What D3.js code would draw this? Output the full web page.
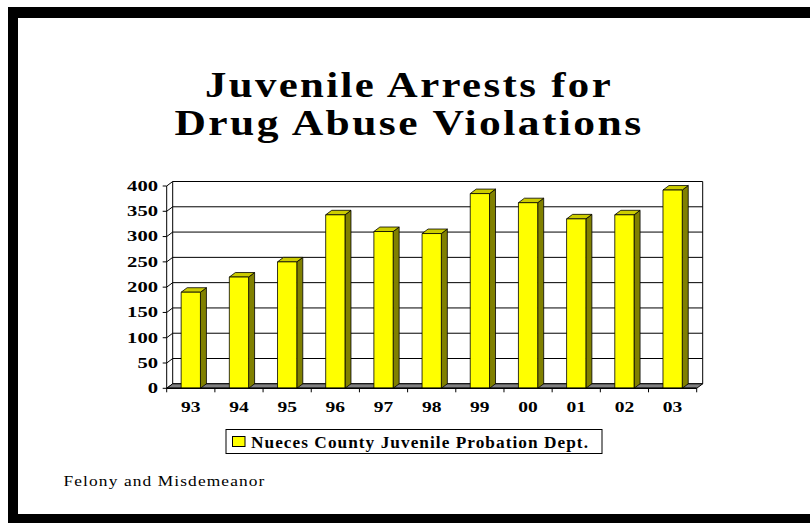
<!DOCTYPE html>
<html>
<head>
<meta charset="utf-8">
<script src="https://cdn.jsdelivr.net/npm/d3@7"></script>
<style>
  html, body { margin: 0; padding: 0; background: #fff; }
  svg { display: block; }
  text { font-family: "Liberation Serif", "Times New Roman", serif; fill: #000; }
</style>
</head>
<body>
<svg id="chart" width="810" height="523"></svg>
<script>
// ---- data ----
const categories = ["93","94","95","96","97","98","99","00","01","02","03"];
const arrests = [190, 220, 250, 343, 310, 306, 385, 367, 335, 343, 392];
const yTicks = [0, 50, 100, 150, 200, 250, 300, 350, 400];
const seriesName = "Nueces County Juvenile Probation Dept.";
const titleLines = ["Juvenile Arrests for", "Drug Abuse Violations"];
const footnote = "Felony and Misdemeanor";

// ---- layout ----
const svg = d3.select("#chart");
const X0 = 166.7, X1 = 696.7, Y0 = 388.3, YTOP = 186;
const DX = 6, DY = -4.5;

const x = d3.scaleBand().domain(categories).range([X0, X1]).padding(0);
const y = d3.scaleLinear().domain([0, 400]).range([Y0, YTOP]);
const bw = x.bandwidth();

// frame
svg.append("path")
  .attr("d", "M8,7 H810 V18 H18 V514 H810 V523 H8 Z")
  .attr("fill", "#000");

// back wall gridlines + side wall diagonals
const grid = svg.append("g").attr("stroke", "#000").attr("stroke-width", 1).attr("fill", "none");
yTicks.forEach(v => {
  grid.append("line").attr("x1", X0 + DX).attr("x2", X1 + DX)
    .attr("y1", y(v) + DY).attr("y2", y(v) + DY);
  grid.append("line").attr("x1", X0).attr("x2", X0 + DX)
    .attr("y1", y(v)).attr("y2", y(v) + DY);
});
grid.append("line").attr("x1", X0 + DX).attr("x2", X0 + DX).attr("y1", y(400) + DY).attr("y2", y(0) + DY);
grid.append("line").attr("x1", X1 + DX).attr("x2", X1 + DX).attr("y1", y(400) + DY).attr("y2", y(0) + DY);

// floor
svg.append("path")
  .attr("d", `M${X0},${Y0} L${X1},${Y0} L${X1 + DX},${Y0 + DY} L${X0 + DX},${Y0 + DY} Z`)
  .attr("fill", "#808080").attr("stroke", "#000").attr("stroke-width", 1);

// bars
const bars = svg.append("g").attr("stroke", "#000").attr("stroke-width", 0.8).attr("stroke-linejoin", "round");
categories.forEach((c, i) => {
  const v = arrests[i];
  const bx = x(c) + bw * 0.3, w = bw * 0.4;
  const top = y(v), bot = y(0);
  bars.append("path")
    .attr("d", `M${bx + w},${bot} L${bx + w + DX},${bot + DY} L${bx + w + DX},${top + DY} L${bx + w},${top} Z`)
    .attr("fill", "#808000");
  bars.append("path")
    .attr("d", `M${bx},${top} L${bx + DX},${top + DY} L${bx + w + DX},${top + DY} L${bx + w},${top} Z`)
    .attr("fill", "#CCCC00");
  bars.append("rect").attr("x", bx).attr("y", top).attr("width", w).attr("height", bot - top)
    .attr("fill", "#FFFF00");
});

// y axis (front)
const ax = svg.append("g").attr("stroke", "#000").attr("stroke-width", 1);
ax.append("line").attr("x1", X0).attr("x2", X0).attr("y1", y(400)).attr("y2", Y0);
yTicks.forEach(v => {
  ax.append("line").attr("x1", X0 - 4).attr("x2", X0).attr("y1", y(v)).attr("y2", y(v));
});
// x axis (front)
ax.append("line").attr("x1", X0).attr("x2", X1).attr("y1", Y0).attr("y2", Y0).attr("stroke-width", 1.5);
d3.range(categories.length + 1).forEach(k => {
  const xx = X0 + k * x.step();
  ax.append("line").attr("x1", xx).attr("x2", xx).attr("y1", Y0).attr("y2", Y0 + 4);
});

// y labels
svg.append("g").selectAll("text").data(yTicks).join("text")
  .attr("x", 158).attr("y", d => y(d)).attr("dy", "0.35em")
  .attr("text-anchor", "end")
  .attr("font-size", 14).attr("font-weight", "bold")
  .attr("textLength", d => String(d).length * 10.3)
  .attr("lengthAdjust", "spacingAndGlyphs")
  .text(d => d);

// x labels
svg.append("g").selectAll("text").data(categories).join("text")
  .attr("x", d => x(d) + bw / 2).attr("y", 411.7)
  .attr("text-anchor", "middle")
  .attr("font-size", 15.5).attr("font-weight", "bold")
  .attr("textLength", 19.5)
  .attr("lengthAdjust", "spacingAndGlyphs")
  .text(d => d);

// legend
const lg = svg.append("g");
lg.append("rect").attr("x", 226).attr("y", 429.5).attr("width", 376).attr("height", 24)
  .attr("fill", "#fff").attr("stroke", "#000").attr("stroke-width", 1);
lg.append("rect").attr("x", 232.5).attr("y", 436.5).attr("width", 12.5).attr("height", 10)
  .attr("fill", "#FFFF00").attr("stroke", "#000").attr("stroke-width", 1);
lg.append("text").attr("x", 251).attr("y", 448.3)
  .attr("font-size", 16.5).attr("font-weight", "bold")
  .style("letter-spacing", "1px")
  .attr("textLength", 338).attr("lengthAdjust", "spacingAndGlyphs")
  .text(seriesName);

// title
const titleLens = [408, 469];
const titleBase = [96.5, 135];
titleLines.forEach((t, i) => {
  svg.append("text").attr("x", 409).attr("y", titleBase[i])
    .attr("text-anchor", "middle")
    .attr("font-size", 36).attr("font-weight", "bold")
    .style("letter-spacing", "2px")
    .attr("textLength", titleLens[i]).attr("lengthAdjust", "spacingAndGlyphs")
    .text(t);
});

// footnote
svg.append("text").attr("x", 63.5).attr("y", 485.7)
  .attr("font-size", 15.5)
  .style("letter-spacing", "1px")
  .attr("textLength", 202).attr("lengthAdjust", "spacingAndGlyphs")
  .text(footnote);
</script>
</body>
</html>
